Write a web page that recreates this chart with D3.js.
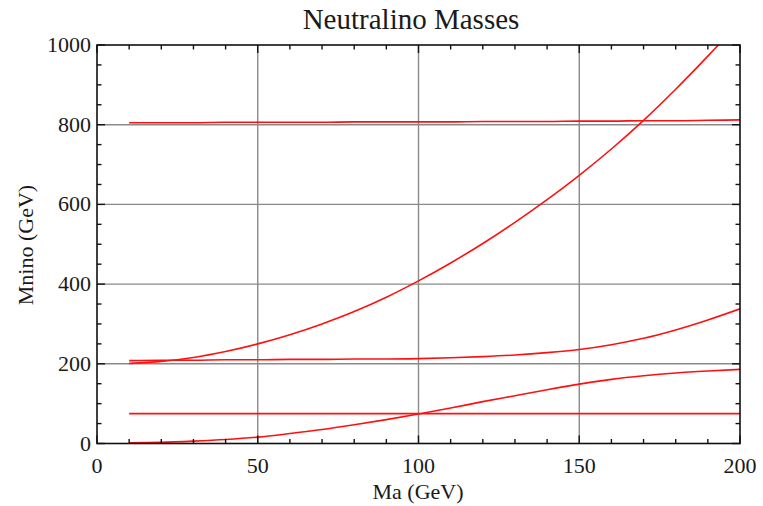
<!DOCTYPE html>
<html>
<head>
<meta charset="utf-8">
<script src="https://cdn.jsdelivr.net/npm/d3@7"></script>
<style>
  html, body { margin: 0; padding: 0; background: #fff; }
  svg { display: block; }
  text { font-family: "Liberation Serif", "Times New Roman", serif; fill: #1a1a1a; }
</style>
</head>
<body>
<svg id="chart" width="763" height="506"></svg>
<script>
// Pseudoscalar mass Ma (GeV) sampled every 10 GeV
const ma = [10, 20, 30, 40, 50, 60, 70, 80, 90, 100, 110, 120, 130, 140, 150, 160, 170, 180, 190, 200];

// Neutralino mass eigenvalues (GeV) for each Ma
const chi1 = [2, 3, 6, 10, 16, 25, 35, 47, 60, 74, 89, 105, 120, 135, 149, 161, 170, 177, 182, 186];
const chi2 = [75, 75, 75, 75, 75, 75, 75, 75, 75, 75, 75, 75, 75, 75, 75, 75, 75, 75, 75, 75];
const chi3 = [208, 209, 209, 210, 210, 211, 211, 212, 212, 213, 215, 218, 222, 228, 236, 248, 264, 285, 310, 338];
const chi4 = [201, 206, 216, 231, 250, 273, 300, 331, 367, 408, 453, 502, 555, 612, 673, 739, 811, 889, 972, 1059];
const chi5 = [805, 805, 805, 806, 806, 806, 806, 807, 807, 807, 807, 808, 808, 808, 809, 809, 810, 810, 811, 812];

const seriesList = [chi1, chi2, chi3, chi4, chi5];

// Axis ticks
const xMajor = [0, 50, 100, 150, 200];
const yMajor = [0, 200, 400, 600, 800, 1000];
const xGrid = [50, 100, 150];
const yGrid = [200, 400, 600, 800];

const svg = d3.select("#chart");
const frame = { left: 97, right: 740, top: 45, bottom: 443.5 };

const x = d3.scaleLinear().domain([0, 200]).range([frame.left, frame.right]);
const y = d3.scaleLinear().domain([0, 1000]).range([frame.bottom, frame.top]);

// Title
svg.append("text")
  .attr("x", 411).attr("y", 29)
  .attr("text-anchor", "middle")
  .style("font-size", "29px")
  .text("Neutralino Masses");

// Grid
const grid = svg.append("g").attr("stroke", "#8a8a8a").attr("stroke-width", 1.4);
grid.append("g").selectAll("line").data(xGrid).join("line")
  .attr("x1", d => x(d)).attr("x2", d => x(d))
  .attr("y1", frame.top).attr("y2", frame.bottom);
grid.append("g").selectAll("line").data(yGrid).join("line")
  .attr("y1", d => y(d)).attr("y2", d => y(d))
  .attr("x1", frame.left).attr("x2", frame.right);

// Curves, clipped to the frame
svg.append("clipPath").attr("id", "plotClip")
  .append("rect").attr("x", frame.left).attr("y", frame.top)
  .attr("width", frame.right - frame.left).attr("height", frame.bottom - frame.top);

const line = d3.line()
  .x((d, i) => x(ma[i]))
  .y(d => y(d))
  .curve(d3.curveMonotoneX);

svg.append("g").attr("clip-path", "url(#plotClip)")
  .selectAll("path").data(seriesList).join("path")
  .attr("d", line)
  .attr("fill", "none")
  .attr("stroke", "#ff1010")
  .attr("stroke-width", 1.6);

// Inside ticks on all four sides
const xMinor = d3.range(0, 201, 10).filter(v => v % 50 !== 0);
const yMinor = d3.range(0, 1001, 50).filter(v => v % 200 !== 0);
const majLen = 8, minLen = 4.5;
const ticks = svg.append("g").attr("stroke", "#111").attr("stroke-width", 1.4);

function xTicks(vals, len) {
  ticks.append("g").selectAll("line").data(vals).join("line")
    .attr("x1", d => x(d)).attr("x2", d => x(d))
    .attr("y1", frame.bottom).attr("y2", frame.bottom - len);
  ticks.append("g").selectAll("line").data(vals).join("line")
    .attr("x1", d => x(d)).attr("x2", d => x(d))
    .attr("y1", frame.top).attr("y2", frame.top + len);
}
function yTicks(vals, len) {
  ticks.append("g").selectAll("line").data(vals).join("line")
    .attr("y1", d => y(d)).attr("y2", d => y(d))
    .attr("x1", frame.left).attr("x2", frame.left + len);
  ticks.append("g").selectAll("line").data(vals).join("line")
    .attr("y1", d => y(d)).attr("y2", d => y(d))
    .attr("x1", frame.right).attr("x2", frame.right - len);
}
xTicks(xMajor, majLen); xTicks(xMinor, minLen);
yTicks(yMajor, majLen); yTicks(yMinor, minLen);

// Frame
svg.append("rect")
  .attr("x", frame.left).attr("y", frame.top)
  .attr("width", frame.right - frame.left).attr("height", frame.bottom - frame.top)
  .attr("fill", "none").attr("stroke", "#111").attr("stroke-width", 1.6);

// Tick labels
svg.append("g").selectAll("text").data(xMajor).join("text")
  .attr("x", d => x(d)).attr("y", 473)
  .attr("text-anchor", "middle")
  .style("font-size", "22px")
  .text(d => d);
svg.append("g").selectAll("text").data(yMajor).join("text")
  .attr("x", frame.left - 6).attr("y", d => y(d) + 7)
  .attr("text-anchor", "end")
  .style("font-size", "22px")
  .text(d => d);

// Axis titles
svg.append("text")
  .attr("x", 418).attr("y", 499)
  .attr("text-anchor", "middle")
  .style("font-size", "22px")
  .text("Ma (GeV)");
svg.append("text")
  .attr("transform", "translate(33,245) rotate(-90)")
  .attr("text-anchor", "middle")
  .style("font-size", "22px")
  .text("Mnino (GeV)");
</script>
</body>
</html>
